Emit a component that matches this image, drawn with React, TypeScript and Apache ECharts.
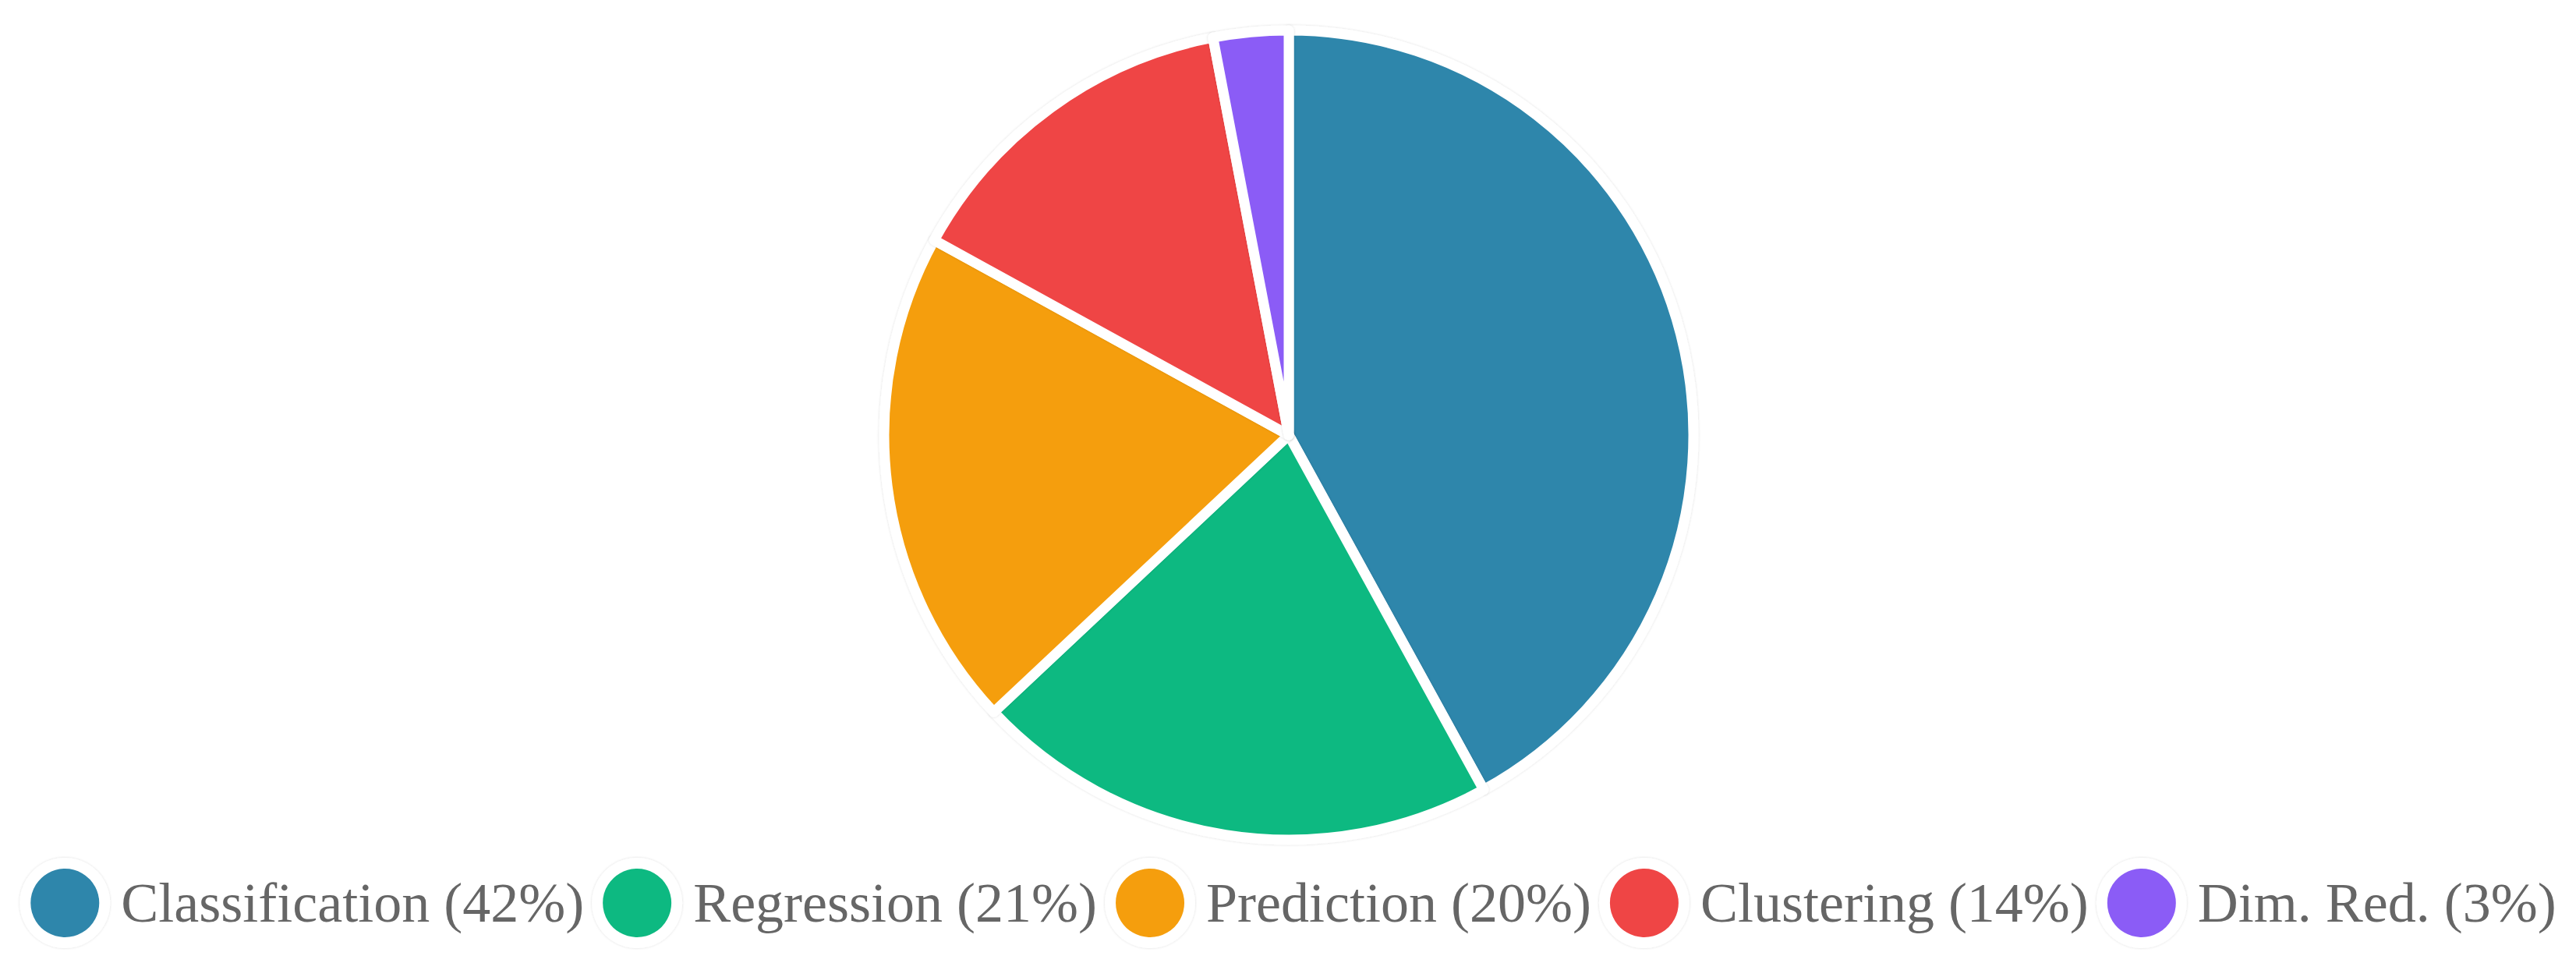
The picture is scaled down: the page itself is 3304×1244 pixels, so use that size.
import React, { useEffect, useRef } from "react";
import * as echarts from "echarts";

const categories = ["Classification", "Regression", "Prediction", "Clustering", "Dim. Red."];
const shares = [42, 21, 20, 14, 3];
const colors = ["#2E86AB", "#10B981", "#F59E0B", "#EF4444", "#8B5CF6"];

export default function App() {
  const ref = useRef<HTMLDivElement>(null);
  useEffect(() => {
    document.body.style.margin = "0";
    const chart = echarts.init(ref.current!, null, { renderer: "svg" });
    const data = categories.map((name, i) => ({
      name,
      value: shares[i],
      itemStyle: { color: colors[i] },
    }));
    chart.setOption({
      animation: false,
      legend: {
        show: true,
        icon: "circle",
        left: "center",
        top: 1095,
        padding: [5, 21, 5, 5],
        itemWidth: 134,
        itemHeight: 102,
        itemGap: 10,
        symbolKeepAspect: true,
        formatter: (name: string) => {
          const i = categories.indexOf(name);
          return `${name} (${shares[i]}%)`;
        },
        textStyle: {
          fontSize: 72,
          fontFamily: "Liberation Serif",
          color: "#666",
        },
        itemStyle: {
          borderColor: "#fff",
          borderWidth: 14,
          shadowBlur: 3,
          shadowColor: "rgba(0,0,0,0.15)",
        },
      },
      series: [
        {
          type: "pie",
          center: [1653, 558],
          radius: [0, 519],
          startAngle: 90,
          clockwise: true,
          label: { show: false },
          labelLine: { show: false },
          itemStyle: {
            borderColor: "#fff",
            borderWidth: 13,
            shadowBlur: 3,
            shadowColor: "rgba(0,0,0,0.15)",
          },
          data,
        },
      ],
    });
    return () => chart.dispose();
  }, []);
  return (
    <div
      ref={ref}
      style={{ position: "absolute", left: 0, top: 0, width: 3304, height: 1244 }}
    />
  );
}
